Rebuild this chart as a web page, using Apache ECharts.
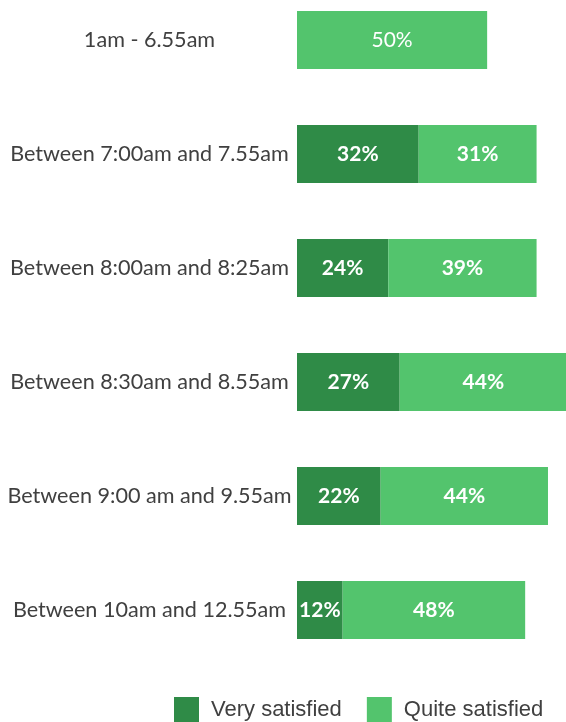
<!DOCTYPE html>
<html>
<head>
<meta charset="utf-8">
<script src="https://cdn.jsdelivr.net/npm/echarts@6/dist/echarts.min.js"></script>
<style>
  html, body { margin: 0; padding: 0; background: #fff; }
  #chart { width: 566px; height: 722px; }
</style>
</head>
<body>
<div id="chart"></div>
<script>
// time slots, top to bottom
var slots = ['1am - 6.55am', 'Between 7:00am and 7.55am', 'Between 8:00am and 8:25am',
    'Between 8:30am and 8.55am', 'Between 9:00 am and 9.55am', 'Between 10am and 12.55am'];
var verySatisfied = [0, 32, 24, 27, 22, 12];
var quiteSatisfied = [50, 31, 39, 44, 44, 48];

var darkGreen = '#2f8b47';
var lightGreen = '#53c46d';
var labelFont = 'Lato, "Open Sans", sans-serif';

function pctLabel(p) {
    return p.value > 0 ? p.value + '%' : '';
}

var chart = echarts.init(document.getElementById('chart'));

var option = {
    backgroundColor: '#fff',
    animation: false,
    grid: {
        left: 297,
        top: -17,
        width: 270,
        height: 684,
        outerBoundsMode: 'none'
    },
    xAxis: {
        type: 'value',
        min: 0,
        max: 71,
        show: false
    },
    yAxis: {
        type: 'category',
        data: slots,
        inverse: true,
        axisLine: { show: false },
        axisTick: { show: false },
        axisLabel: {
            // labels are centred in the space left of the bars
            margin: 147.5,
            align: 'center',
            color: '#404040',
            fontSize: 21.6,
            fontFamily: labelFont
        }
    },
    legend: {
        left: 174,
        top: 697,
        padding: 0,
        itemWidth: 25,
        itemHeight: 25,
        itemGap: 25,
        icon: 'rect',
        textStyle: {
            color: '#404040',
            fontSize: 22,
            fontFamily: '"Liberation Sans", Arial, sans-serif',
            padding: [0, 0, 0, 7]
        },
        data: ['Very satisfied', 'Quite satisfied']
    },
    series: [
        {
            name: 'Very satisfied',
            type: 'bar',
            stack: 'total',
            barWidth: 58,
            data: verySatisfied,
            itemStyle: { color: darkGreen },
            label: {
                show: true,
                position: 'inside',
                color: '#fff',
                fontSize: 21,
                fontWeight: 'bold',
                fontFamily: labelFont,
                formatter: pctLabel
            }
        },
        {
            name: 'Quite satisfied',
            type: 'bar',
            stack: 'total',
            barWidth: 58,
            data: quiteSatisfied.map(function (v, i) {
                // first row has no "very satisfied" part and a plain label
                if (i === 0) {
                    return { value: v, label: { fontWeight: 'normal' } };
                }
                return v;
            }),
            itemStyle: { color: lightGreen },
            label: {
                show: true,
                position: 'inside',
                color: '#fff',
                fontSize: 21,
                fontWeight: 'bold',
                fontFamily: labelFont,
                formatter: pctLabel
            }
        }
    ]
};

chart.setOption(option);
</script>
</body>
</html>
